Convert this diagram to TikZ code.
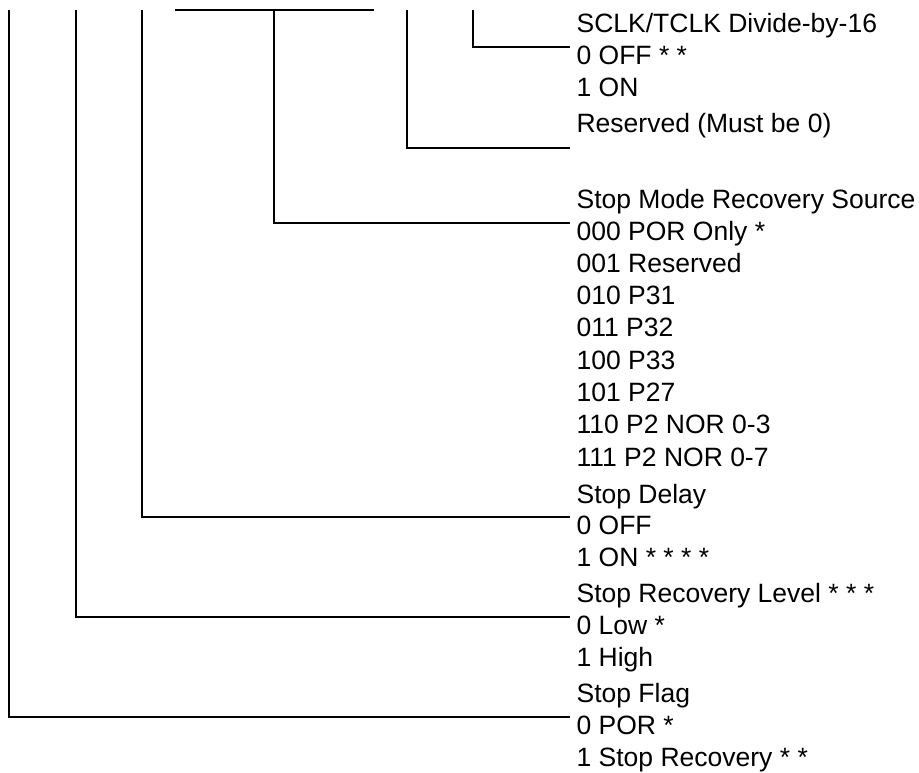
\documentclass[tikz,border=0pt]{standalone}
\usepackage{fontspec}
\setmainfont{Liberation Sans}
\usepackage{tikz}

\begin{document}
\begin{tikzpicture}[x=0.5pt,y=-0.5pt,line width=0.6pt,
    lbl/.style={anchor=base west,inner xsep=3pt,inner ysep=0pt,
        font=\fontsize{13.25pt}{16pt}\selectfont}]
    \useasboundingbox (0,0) rectangle (919,772);

    % bit tops
    \coordinate (b7) at (9,10);
    \coordinate (b6) at (76,10);
    \coordinate (b5) at (142,10);
    \coordinate (b4) at (175,10);
    \coordinate (b2) at (374,10);
    \coordinate (smrtop) at (274,10);
    \coordinate (b1) at (407,10);
    \coordinate (b0) at (473,10);
    \coordinate (rsvend) at (570,148);

    % bit 0
    \node[lbl] (div) at (570,32) {SCLK/TCLK Divide-by-16};
    \node[lbl] (divoff) at (570,64) {0 OFF * *};
    \node[lbl] (divon) at (570,96) {1 ON};
    \node[lbl] (rsv) at (570,132) {Reserved (Must be 0)};

    % bits 4-2
    \node[lbl] (smr) at (570,208) {Stop Mode Recovery Source};
    \node[lbl] (smr0) at (570,240) {000 POR Only *};
    \node[lbl] (smr1) at (570,272.3) {001 Reserved};
    \node[lbl] (smr2) at (570,304.6) {010 P31};
    \node[lbl] (smr3) at (570,336.9) {011 P32};
    \node[lbl] (smr4) at (570,369.2) {100 P33};
    \node[lbl] (smr5) at (570,401.5) {101 P27};
    \node[lbl] (smr6) at (570,433.8) {110 P2 NOR 0-3};
    \node[lbl] (smr7) at (570,466.1) {111 P2 NOR 0-7};

    % bit 5
    \node[lbl] (dly) at (570,503) {Stop Delay};
    \node[lbl] (dlyoff) at (570,534) {0 OFF};
    \node[lbl] (dlyon) at (570,566) {1 ON * * * *};

    % bit 6
    \node[lbl] (lvl) at (570,602) {Stop Recovery Level * * *};
    \node[lbl] (lvllow) at (570,634) {0 Low *};
    \node[lbl] (lvlhigh) at (570,666) {1 High};

    % bit 7
    \node[lbl] (flg) at (570,702) {Stop Flag};
    \node[lbl] (flgpor) at (570,734) {0 POR *};
    \node[lbl] (flgrec) at (570,766) {1 Stop Recovery * *};

    \draw (b0) |- ([yshift=8.5pt]divoff.base west);
    \draw (b1) |- (rsvend);
    \draw (b4) -- (b2);
    \draw (smrtop) |- ([yshift=8.5pt]smr0.base west);
    \draw (b5) |- ([yshift=8.5pt]dlyoff.base west);
    \draw (b6) |- ([yshift=8.5pt]lvllow.base west);
    \draw (b7) |- ([yshift=8.5pt]flgpor.base west);
\end{tikzpicture}
\end{document}
